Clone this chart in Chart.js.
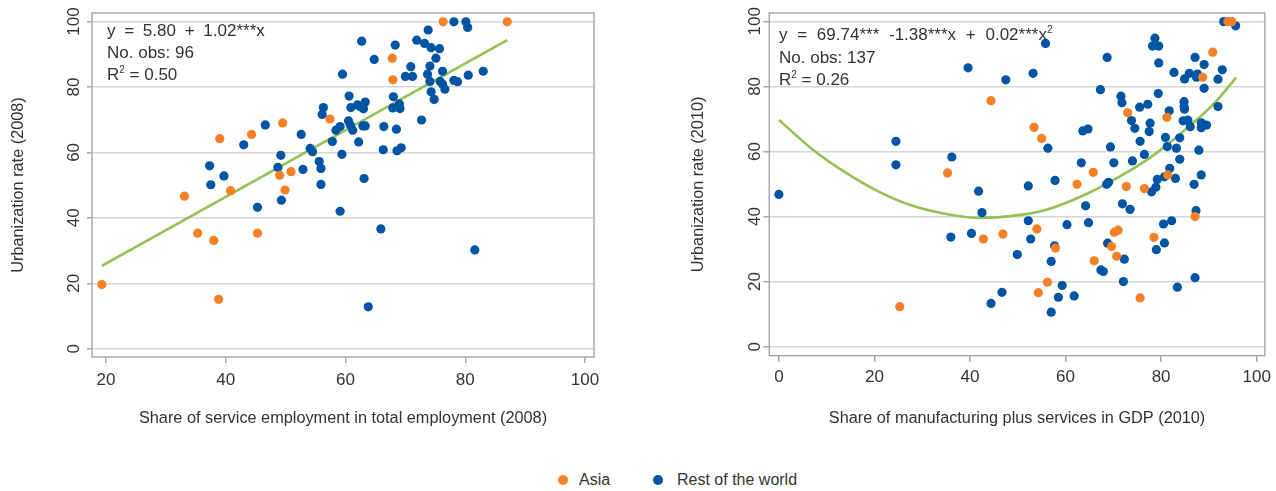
<!DOCTYPE html>
<html><head><meta charset="utf-8">
<script src="https://cdn.jsdelivr.net/npm/chart.js@4.4.1/dist/chart.umd.min.js"></script>
<style>
html,body{margin:0;padding:0;background:#fff;}
body{width:1276px;height:491px;position:relative;overflow:hidden;font-family:"Liberation Sans",Arial,sans-serif;color:#333;}
canvas{position:absolute;top:0;}
#c1{left:0;} #c2{left:640px;}
.ann{position:absolute;font-size:17px;line-height:22px;color:#333;white-space:nowrap;}
.ann sup{font-size:10px;vertical-align:7px;line-height:0;}
.lg{position:absolute;font-size:16px;color:#333;white-space:nowrap;line-height:20px;}
.dot{position:absolute;width:10px;height:10px;border-radius:50%;}
</style>
</head><body>
<canvas id="c1" width="620" height="440"></canvas>
<canvas id="c2" width="636" height="440"></canvas>
<div class="ann" style="left:107px;top:20px;"><span style="word-spacing:4px;">y = 5.80 + 1.02***x</span><br>No. obs: 96<br>R<sup>2</sup> = 0.50</div>
<div class="ann" style="left:779px;top:24px;line-height:22.5px;"><span style="word-spacing:5px;">y = 69.74*** -1.38***x + 0.02***x<sup>2</sup></span><br>No. obs: 137<br>R<sup>2</sup> = 0.26</div>
<div class="dot" style="left:558px;top:475px;background:#F58025;"></div>
<div class="lg" style="left:579px;top:470px;">Asia</div>
<div class="dot" style="left:653px;top:475px;background:#0054A4;"></div>
<div class="lg" style="left:677px;top:470px;">Rest of the world</div>
<script>
// ---- Data: left panel (2008) ----
const leftAsiaX = [19.3,33.1,35.3,38.0,38.8,39.0,40.8,44.3,45.3,49.5,49.0,50.9,49.9,57.4,67.8,67.9,76.3,87.0];
const leftAsiaY = [19.6,46.6,35.3,33.1,15.1,64.2,48.3,65.5,35.3,69.0,53.0,54.1,48.5,70.2,88.8,82.2,99.9,99.9];
const leftRestX = [37.3,37.5,39.7,43.0,45.3,46.6,49.2,48.7,49.3,52.6,52.9,54.1,54.5,62.7,59.5,64.8,68.3,71.9,73.8,73.2,74.3,75.7,75.1,70.9,70.0,71.2,74.1,73.7,74.1,76.2,75.8,76.2,76.6,74.3,74.8,78.1,80.1,80.4,78.1,78.7,80.5,83.0,72.7,68.0,67.9,69.0,69.1,66.4,68.5,66.3,68.6,69.3,60.6,60.9,62.0,63.0,63.3,62.4,60.5,60.8,61.2,62.9,63.3,62.2,63.1,59.1,58.4,57.8,59.4,56.3,56.1,55.6,55.9,55.9,59.1,65.9,81.6,63.8];
const leftRestY = [55.9,50.1,52.8,62.3,43.2,68.4,59.1,55.4,45.4,65.5,54.8,61.2,60.2,94.0,83.9,88.4,92.8,94.3,97.4,93.3,92.0,91.7,88.8,86.2,83.2,83.2,86.4,83.9,81.7,84.8,81.7,80.9,79.3,78.5,76.2,99.9,99.9,98.2,82.0,81.6,83.6,84.8,69.9,77.0,73.6,74.8,73.4,67.9,67.1,60.8,60.5,61.4,77.2,73.7,74.5,73.3,75.4,74.0,69.6,68.4,66.8,68.1,68.1,63.2,52.0,67.9,66.8,63.3,59.4,73.7,71.6,57.2,55.1,50.2,42.0,36.6,30.2,12.8];
const leftFitX = [19.3, 87.0];
const leftFitY = [25.3, 94.3];
const leftXTicks = [20,40,60,80,100];
const yTicks = [0,20,40,60,80,100];

// ---- Data: right panel (2010) ----
const rightAsiaX = [25.3,35.3,44.4,53.4,55.0,73.0,81.2,88.7,90.8,94.0,94.8,81.4,87.1,72.7,76.5,65.8,62.4,42.8,46.9,54.0,57.9,70.2,71.0,69.6,70.7,66.0,78.5,56.2,54.3,75.6];
const rightAsiaY = [12.3,53.4,75.6,67.4,64.0,71.9,70.5,82.8,90.5,99.9,99.9,52.8,40.0,49.2,48.6,53.6,49.9,33.1,34.6,36.2,30.3,35.2,35.8,30.8,27.8,26.4,33.6,19.8,16.6,15.0];
const rightRestX = [0,24.5,24.5,36.2,39.6,41.8,36.0,40.3,47.5,53.2,55.8,56.3,68.7,67.3,71.6,71.8,75.5,77.2,73.8,74.5,77.7,77.5,75.6,76.5,78.7,78.2,79.5,79.5,79.4,81.7,82.7,84.9,85.9,87.1,87.6,89.0,87.4,89.0,91.9,92.8,91.9,84.8,84.8,84.9,84.6,85.6,86.1,88.4,89.5,88.4,80.9,81.3,83.2,83.9,83.9,87.9,81.8,80.7,83.0,79.2,78.9,78.0,88.4,86.9,87.3,74.0,70.1,69.4,68.6,69.0,63.3,63.6,64.7,57.8,52.2,42.5,64.2,71.9,73.5,52.2,52.7,49.9,57.7,57.0,60.3,64.8,68.8,72.3,67.4,67.9,72.1,79.0,80.7,80.5,82.2,83.4,87.1,59.3,58.5,61.8,57.0,46.7,44.4,93.1,95.6];
const rightRestY = [46.8,63.1,55.9,58.3,85.7,47.8,33.7,34.8,82.0,84.0,93.2,61.0,88.9,79.0,77.0,75.0,73.6,74.5,69.5,67.1,68.7,66.1,63.1,59.1,94.8,92.4,92.4,87.2,77.8,72.5,84.3,82.3,84.0,88.9,83.8,86.7,82.8,79.4,82.2,85.1,73.8,75.3,73.8,73.0,69.4,69.6,67.6,68.8,68.1,67.3,64.3,61.5,61.0,57.6,64.2,60.4,54.8,52.2,51.7,51.4,49.0,47.6,52.8,49.9,41.8,57.1,56.5,61.4,49.9,50.5,56.5,66.3,66.9,51.1,49.4,41.2,43.3,43.9,42.2,38.7,33.1,28.3,31.0,26.2,37.5,38.1,31.8,26.9,23.6,23.1,20.0,29.8,31.9,37.7,38.7,18.3,21.2,18.8,15.2,15.6,10.6,16.7,13.3,99.9,98.6];
const rightFitX = [0,7,14,21,28,35,42,49,56,63,70,77,84,91,95.7];
const rightFitY = [69.7,60.7,53.5,47.6,43.3,40.8,39.6,40.2,42.1,46.0,51.2,57.4,65.4,74.6,82.7];
const rightXTicks = [0,20,40,60,80,100];

// ---- Styles ----
const ORANGE = '#F58025', BLUE = '#0054A4', GREEN = '#93C152';
const GRID = '#d6d6d6', FRAME = '#a8a8a8', TEXT = '#333333';
const FONT = '"Liberation Sans", Arial, sans-serif';

const zip = (xs, ys) => xs.map((x, i) => ({x, y: ys[i]}));

const framePlugin = {
  id: 'frame',
  beforeDatasetsDraw(chart) {
    const {ctx, chartArea: a} = chart;
    ctx.save();
    ctx.strokeStyle = FRAME; ctx.lineWidth = 1.5;
    ctx.strokeRect(a.left, a.top, a.right - a.left, a.bottom - a.top);
    ctx.restore();
  },
  afterDraw(chart, args, opts) {
    const {ctx} = chart; const s = chart.scales.y;
    ctx.save();
    ctx.fillStyle = TEXT; ctx.font = '17px ' + FONT;
    ctx.textAlign = 'center'; ctx.textBaseline = 'alphabetic';
    s.ticks.forEach(t => {
      const y = s.getPixelForValue(t.value);
      ctx.save(); ctx.translate(opts.labelX, y); ctx.rotate(-Math.PI / 2);
      ctx.fillText(String(t.value), 0, 0); ctx.restore();
    });
    ctx.restore();
  }
};

function makeChart(id, p) {
  new Chart(document.getElementById(id), {
    type: 'scatter',
    data: {
      datasets: [
        {label: 'Asia', data: zip(p.ax, p.ay), backgroundColor: ORANGE, pointRadius: 4.6, pointBorderWidth: 0, order: 0},
        {label: 'Rest of the world', data: zip(p.rx, p.ry), backgroundColor: BLUE, pointRadius: 4.6, pointBorderWidth: 0, order: 1},
        {type: 'line', label: 'fit', data: zip(p.fx, p.fy), borderColor: GREEN, borderWidth: 2.6, pointRadius: 0, fill: false, cubicInterpolationMode: 'monotone', order: 2}
      ]
    },
    options: {
      responsive: false, animation: false, devicePixelRatio: 1,
      layout: {padding: {left: 0, right: p.padRight, top: 13, bottom: 0}},
      plugins: {legend: {display: false}, tooltip: {enabled: false}, frame: {labelX: p.labelX}},
      scales: {
        x: {
          type: 'linear', position: 'bottom', min: p.xmin, max: p.xmax,
          afterBuildTicks: s => { s.ticks = p.xt.map(v => ({value: v})); },
          afterFit: s => { s.height = 440 - p.bottom; },
          grid: {drawOnChartArea: false, drawTicks: true, tickLength: 6, tickColor: FRAME, lineWidth: 1.5},
          border: {display: false},
          ticks: {color: TEXT, font: {family: FONT, size: 17}, padding: p.xtp, maxRotation: 0, autoSkip: false},
          title: {display: true, text: p.xtitle, color: TEXT, font: {family: FONT, size: 16.3}, padding: {top: 0, bottom: 12}}
        },
        y: {
          type: 'linear', min: p.ymin, max: p.ymax,
          afterBuildTicks: s => { s.ticks = yTicks.map(v => ({value: v})); },
          afterFit: s => { s.width = p.left; },
          grid: {color: GRID, lineWidth: 1.5, drawTicks: true, tickLength: p.ytl, tickColor: FRAME},
          border: {display: false},
          ticks: {display: false},
          title: {display: true, text: p.ytitle, color: TEXT, font: {family: FONT, size: 16.3}, padding: {top: p.ytp, bottom: 0}}
        }
      }
    },
    plugins: [framePlugin]
  });
}

makeChart('c1', {
  ax: leftAsiaX, ay: leftAsiaY, rx: leftRestX, ry: leftRestY, fx: leftFitX, fy: leftFitY,
  xt: leftXTicks, xmin: 17.66, xmax: 101.5, ymin: -2.54, ymax: 102.6,
  left: 92, padRight: 26, bottom: 357, labelX: 78.5, ytl: 5, ytp: 9, xtp: 7,
  xtitle: 'Share of service employment in total employment (2008)',
  ytitle: 'Urbanization rate (2008)'
});
makeChart('c2', {
  ax: rightAsiaX, ay: rightAsiaY, rx: rightRestX, ry: rightRestY, fx: rightFitX, fy: rightFitY,
  xt: rightXTicks, xmin: -2.0, xmax: 101.7, ymin: -2.77, ymax: 102.55,
  left: 129.3, padRight: 8, bottom: 355.7, labelX: 119.5, ytl: 6, ytp: 49, xtp: 5,
  xtitle: 'Share of manufacturing plus services in GDP (2010)',
  ytitle: 'Urbanization rate (2010)'
});
</script>
</body></html>
